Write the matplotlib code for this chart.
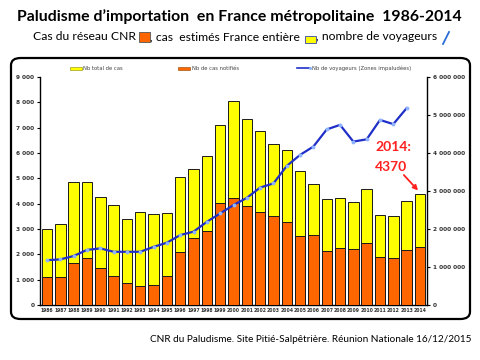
import matplotlib
matplotlib.use("Agg")
import matplotlib.pyplot as plt
from matplotlib.patches import FancyBboxPatch, Rectangle
from matplotlib.lines import Line2D
import numpy as np

years = list(range(1986, 2015))
total_cases = [3000, 3180, 4840, 4840, 4270, 3950, 3410, 3680, 3610, 3650,
               5070, 5360, 5900, 7100, 8040, 7340, 6850, 6370, 6110, 5280,
               4780, 4200, 4210, 4070, 4580, 3560, 3500, 4100, 4370]
notified_cases = [1100, 1120, 1650, 1850, 1470, 1150, 880, 750, 800, 1150,
                  2110, 2640, 2920, 4040, 4210, 3890, 3660, 3500, 3290, 2740,
                  2770, 2150, 2240, 2200, 2440, 1880, 1840, 2170, 2280]
travellers = [1180000, 1200000, 1290000, 1450000, 1490000, 1400000, 1400000, 1400000,
              1530000, 1640000, 1840000, 1930000, 2190000, 2410000, 2630000, 2820000,
              3090000, 3200000, 3660000, 3950000, 4170000, 4620000, 4740000, 4300000,
              4360000, 4870000, 4760000, 5180000, None]
left_ticks = [0, 1000, 2000, 3000, 4000, 5000, 6000, 7000, 8000, 9000]
right_ticks = [0, 1000000, 2000000, 3000000, 4000000, 5000000, 6000000]

W, H = 480, 360
fig = plt.figure(figsize=(4.8, 3.6), dpi=100)
fig.patch.set_facecolor("white")

def fx(px):
    return px / W

def fy(py):
    return 1 - py / H

# rounded frame
frame = FancyBboxPatch((fx(11), fy(319)), fx(459), (319 - 58) / H,
                       boxstyle="round,pad=0,rounding_size=0.02",
                       transform=fig.transFigure, fill=False, lw=1.6, ec="black")
fig.patches.append(frame)

ax = fig.add_axes([fx(40), fy(305), fx(427) - fx(40), (305 - 77) / H])
x = np.arange(len(years))
ax.bar(x, total_cases, width=0.78, color="#ffff00", edgecolor="#1a1a1a", lw=0.7, zorder=2)
ax.bar(x, notified_cases, width=0.78, color="#ff6600", edgecolor="#1a1a1a", lw=0.7, zorder=3)
ax.set_xlim(-0.53, len(years) - 0.47)
ax.set_ylim(0, 9000)
ax.set_yticks(left_ticks)
ax.set_yticklabels([f"{v:,}".replace(",", " ") for v in left_ticks],
                   fontsize=4.2, fontweight="bold", color="#333333")
ax.set_xticks(x)
ax.set_xticklabels([str(y) for y in years], fontsize=3.3, fontweight="bold", color="#333333")
ax.tick_params(axis="x", length=0, pad=2)
ax.tick_params(axis="y", length=2, width=0.8, pad=2)
for s in ["top", "right"]:
    ax.spines[s].set_visible(False)
ax.spines["left"].set_linewidth(1.0)
ax.spines["bottom"].set_linewidth(1.0)

ax2 = ax.twinx()
tx = [i for i, v in enumerate(travellers) if v is not None]
tv = [v for v in travellers if v is not None]
ax2.plot(tx, tv, color="#1f2fc8", lw=1.6, marker="o", ms=1.8,
         mfc="#8fb4ff", mec="#8fb4ff", zorder=5)
ax2.set_ylim(0, 6000000)
ax2.set_yticks(right_ticks)
ax2.set_yticklabels([f"{v:,}".replace(",", " ") for v in right_ticks],
                    fontsize=4.2, fontweight="bold", color="#333333")
ax2.tick_params(axis="y", length=2, width=0.8, pad=2)
for s in ["top", "left", "bottom"]:
    ax2.spines[s].set_visible(False)
ax2.spines["right"].set_linewidth(1.0)

# legend (manual, tiny)
fig.patches.append(Rectangle((fx(70), fy(70)), fx(12), 3 / H, transform=fig.transFigure,
                             fc="#ffff00", ec="#888800", lw=0.4))
fig.text(fx(83), fy(68), "Nb total de cas", fontsize=3.8, color="#444444", va="center")
fig.patches.append(Rectangle((fx(178), fy(70)), fx(12), 3 / H, transform=fig.transFigure,
                             fc="#ff6600", ec="#884400", lw=0.4))
fig.text(fx(192), fy(68), "Nb de cas notifiés", fontsize=3.8, color="#444444", va="center")
fig.lines.append(Line2D([fx(297), fx(310)], [fy(68), fy(68)], transform=fig.transFigure,
                        color="#1f2fc8", lw=1.2, marker="o", ms=1.2, mfc="#8fb4ff", mec="#8fb4ff",
                        markevery=[1]))
fig.text(fx(312), fy(68), "Nb de voyageurs (Zones impaludées)", fontsize=3.8, color="#444444",
         va="center")

# annotation
fig.text(fx(375), fy(157), "2014:\n4370", fontsize=10, color="#ff2020", fontweight="bold",
         family="Lato", va="center", ha="left", linespacing=1.75)
ax.annotate("", xy=(28, 4440), xycoords="data",
            xytext=(fx(402), fy(173)), textcoords="figure fraction",
            arrowprops=dict(arrowstyle="-|>", color="#ff2020", lw=1.3, mutation_scale=7))

# title
fig.text(fx(239), fy(17), "Paludisme d\u2019importation  en France métropolitaine  1986-2014",
         fontsize=11.4, fontweight="bold", family="Lato", ha="center", va="center", color="black")

# subtitle pieces
sub_y = fy(37)
fs = 8.7
fig.text(fx(33), sub_y, "Cas du réseau CNR", fontsize=fs, family="Lato", ha="left", va="center",
         color="black")
fig.patches.append(Rectangle((fx(139), fy(42)), fx(11), 10 / H, transform=fig.transFigure,
                             fc="#ff6600", ec="#555555", lw=0.6))
fig.text(fx(150), sub_y, ", cas  estimés France entière", fontsize=fs, family="Lato", ha="left",
         va="center", color="black")
fig.patches.append(Rectangle((fx(305), fy(43)), fx(11), 7 / H, transform=fig.transFigure,
                             fc="#ffff00", ec="#3344aa", lw=0.6))
fig.text(fx(316), sub_y, ", nombre de voyageurs", fontsize=fs, family="Lato", ha="left",
         va="center", color="black")
fig.lines.append(Line2D([fx(443), fx(449)], [fy(44), fy(32)], transform=fig.transFigure,
                        color="#2a6fd6", lw=1.3))

# footer
fig.text(fx(472), fy(340), "CNR du Paludisme. Site Pitié-Salpêtrière. Réunion Nationale 16/12/2015",
         fontsize=7.2, family="Lato", ha="right", va="center", color="black")

fig.savefig("out.png", dpi=100)
